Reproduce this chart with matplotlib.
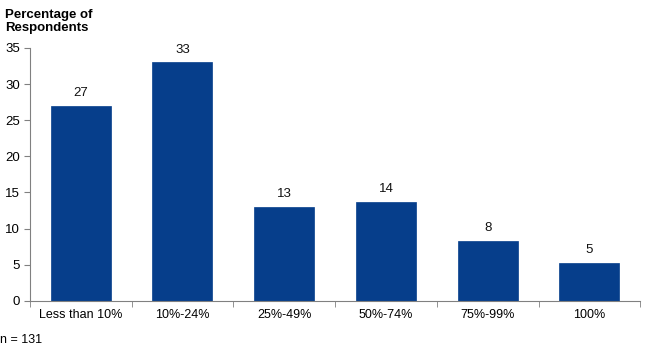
import matplotlib
matplotlib.use("Agg")
import matplotlib.pyplot as plt
import numpy as np

categories = ["Less than 10%", "10%-24%", "25%-49%", "50%-74%", "75%-99%", "100%"]
values = [27.0, 33.0, 13.0, 13.7, 8.3, 5.3]
labels = ["27", "33", "13", "14", "8", "5"]
yticks = [0, 5, 10, 15, 20, 25, 30, 35]

plt.rcParams['font.family'] = ['Liberation Sans', 'DejaVu Sans']

fig = plt.figure(figsize=(6.5, 3.52), dpi=100)
ax = fig.add_axes([0.046, 0.145, 0.939, 0.719])

x = np.arange(len(categories))
bars = ax.bar(x, values, width=0.59, color='#063e8b', edgecolor='#063e8b', linewidth=0.5, zorder=2)
for xi, v, lab in zip(x, values, labels):
    ax.text(xi, v + 0.9, lab, ha='center', va='bottom', fontsize=9.5, color='#111111')

ax.set_xlim(-0.5, len(categories) - 0.5)
ax.set_ylim(0, 35)
ax.set_yticks(yticks)
ax.set_yticklabels([str(t) for t in yticks], fontsize=9.5)
ax.set_xticks(x)
ax.set_xticklabels(categories, fontsize=9)
ax.tick_params(axis='x', length=0, pad=6)
ax.set_xticks(np.arange(-0.5, len(categories) + 0.5, 1), minor=True)
ax.tick_params(axis='x', which='minor', length=4, direction='out', color='#808080')
ax.tick_params(axis='y', length=4, direction='out', color='#808080', pad=3)

for s in ['top', 'right']:
    ax.spines[s].set_visible(False)
for s in ['left', 'bottom']:
    ax.spines[s].set_color('#808080')
    ax.spines[s].set_linewidth(0.8)

fig.text(0.008, 0.975, "Percentage of\nRespondents", ha='left', va='top', fontsize=9.5, fontweight='bold', linespacing=1.1)
fig.text(0.0, 0.035, "n = 131", ha='left', va='center', fontsize=9)

fig.savefig("out.png", dpi=100)
